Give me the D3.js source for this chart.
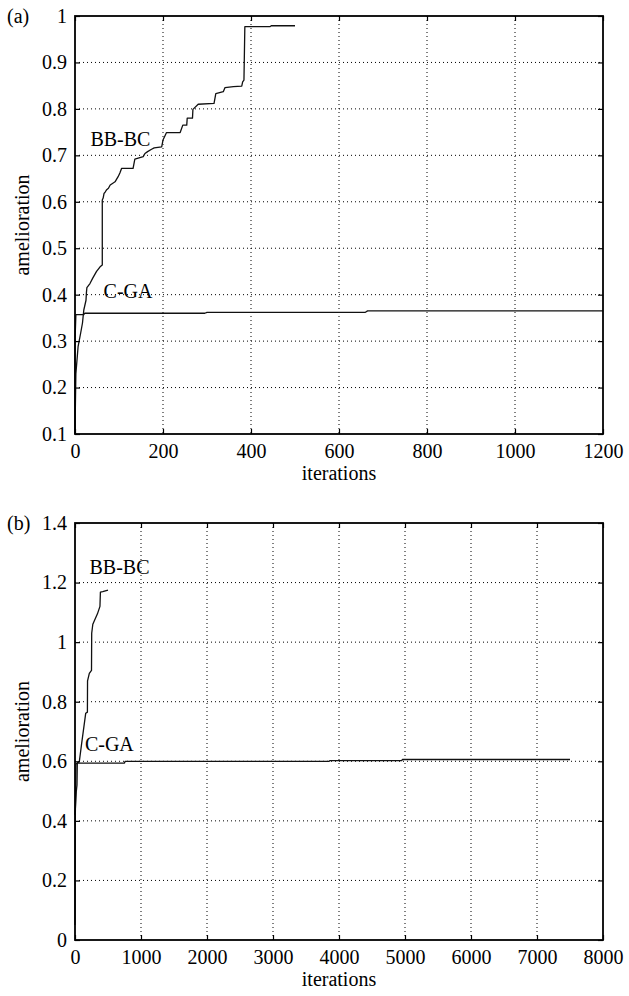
<!DOCTYPE html>
<html lang="en">
<head>
  <meta charset="UTF-8" />
  <title>BB-BC vs C-GA</title>
  <style>
    html, body {
      margin: 0;
      padding: 0;
      background: #fff;
    }
    svg {
      display: block;
    }
    svg text {
      font-family: "Liberation Serif", "Times New Roman", Times, "DejaVu Serif", serif;
    }
  </style>
</head>
<body>
<script src="https://cdn.jsdelivr.net/npm/d3@7"></script>
<script>
  // panel (a)
  const aTicksX = [0, 200, 400, 600, 800, 1000, 1200];
  const aTicksY = [0.1, 0.2, 0.3, 0.4, 0.5, 0.6, 0.7, 0.8, 0.9, 1];
  const aTickLabelsY = ["0.1", "0.2", "0.3", "0.4", "0.5", "0.6", "0.7", "0.8", "0.9", "1"];
  const aBBBCx = [0, 1, 2, 7, 13, 17, 20, 25, 26, 27, 34, 40, 49, 57, 62, 62, 64, 66, 68, 72, 76, 80, 86, 91, 98, 102, 106, 132, 136, 155, 159, 165, 174, 180, 197, 200, 208, 239, 245, 254, 255, 267, 268, 280, 316, 320, 337, 341, 360, 379, 381, 384, 386, 443, 446, 500];
  const aBBBCy = [0.10, 0.17, 0.23, 0.288, 0.318, 0.339, 0.367, 0.388, 0.405, 0.415, 0.424, 0.435, 0.450, 0.460, 0.464, 0.604, 0.608, 0.618, 0.620, 0.626, 0.629, 0.636, 0.640, 0.643, 0.654, 0.662, 0.672, 0.672, 0.692, 0.697, 0.704, 0.708, 0.713, 0.716, 0.718, 0.733, 0.749, 0.749, 0.765, 0.765, 0.780, 0.780, 0.799, 0.810, 0.812, 0.833, 0.837, 0.846, 0.848, 0.849, 0.858, 0.862, 0.977, 0.977, 0.979, 0.979];
  const aCGAx = [0, 0, 2, 20, 22, 295, 300, 660, 665, 1200];
  const aCGAy = [0.10, 0.30, 0.357, 0.357, 0.360, 0.360, 0.362, 0.362, 0.365, 0.365];

  // panel (b)
  const bTicksX = [0, 1000, 2000, 3000, 4000, 5000, 6000, 7000, 8000];
  const bTicksY = [0, 0.2, 0.4, 0.6, 0.8, 1, 1.2, 1.4];
  const bTickLabelsY = ["0", "0.2", "0.4", "0.6", "0.8", "1", "1.2", "1.4"];
  const bBBBCx = [0, 20, 25, 30, 35, 66, 101, 162, 188, 190, 217, 250, 253, 270, 340, 378, 385, 420, 500];
  const bBBBCy = [0.42, 0.50, 0.51, 0.52, 0.594, 0.600, 0.660, 0.761, 0.765, 0.870, 0.895, 0.905, 1.03, 1.06, 1.095, 1.12, 1.168, 1.170, 1.175];
  const bCGAx = [0, 5, 15, 30, 750, 760, 3850, 3860, 4950, 4960, 7500];
  const bCGAy = [0.05, 0.42, 0.59, 0.594, 0.594, 0.600, 0.600, 0.602, 0.602, 0.606, 0.606];

  const W = 629, H = 996;
  const left = 75, right = 603;
  const serif = "'Liberation Serif', 'Times New Roman', Times, 'DejaVu Serif', serif";

  const panels = [
    {tag: "(a)", top: 16, bottom: 434, xDomain: [0, 1200], yDomain: [0.1, 1],
     ticksX: aTicksX, ticksY: aTicksY, labelsY: aTickLabelsY,
     series: [{x: aBBBCx, y: aBBBCy}, {x: aCGAx, y: aCGAy}],
     notes: [{text: "BB-BC", x: 35, y: 0.72}, {text: "C-GA", x: 65, y: 0.393}]},
    {tag: "(b)", top: 523, bottom: 940, xDomain: [0, 8000], yDomain: [0, 1.4],
     ticksX: bTicksX, ticksY: bTicksY, labelsY: bTickLabelsY,
     series: [{x: bBBBCx, y: bBBBCy}, {x: bCGAx, y: bCGAy}],
     notes: [{text: "BB-BC", x: 220, y: 1.23}, {text: "C-GA", x: 150, y: 0.635}]}
  ];

  const svg = d3.select("body").append("svg")
    .attr("width", W)
    .attr("height", H)
    .attr("font-family", serif);

  panels.forEach(p => {
    const x = d3.scaleLinear().domain(p.xDomain).range([left, right]);
    const y = d3.scaleLinear().domain(p.yDomain).range([p.bottom, p.top]);
    const g = svg.append("g");

    // dotted grid
    g.append("g").selectAll("line")
      .data(p.ticksX.slice(1, -1))
      .join("line")
      .attr("x1", d => x(d)).attr("x2", d => x(d))
      .attr("y1", p.top).attr("y2", p.bottom)
      .attr("stroke", "#000").attr("stroke-width", 1)
      .attr("stroke-dasharray", "1,3");
    g.append("g").selectAll("line")
      .data(p.ticksY.slice(1, -1))
      .join("line")
      .attr("y1", d => y(d)).attr("y2", d => y(d))
      .attr("x1", left).attr("x2", right)
      .attr("stroke", "#000").attr("stroke-width", 1)
      .attr("stroke-dasharray", "1,3");

    // curves
    const line = d3.line().x(d => x(d[0])).y(d => y(d[1]));
    p.series.forEach(s => {
      g.append("path")
        .datum(s.x.map((v, i) => [v, s.y[i]]))
        .attr("fill", "none")
        .attr("stroke", "#111")
        .attr("stroke-width", 1.3)
        .attr("stroke-linejoin", "round")
        .attr("d", line);
    });

    // axes, inward ticks on all four sides
    const fontStyle = sel => sel
      .attr("font-family", serif)
      .attr("font-size", 20)
      .selectAll("text")
      .attr("fill", "#000");

    g.append("g")
      .attr("transform", `translate(0,${p.bottom})`)
      .call(d3.axisBottom(x).tickValues(p.ticksX).tickSize(-5).tickPadding(10).tickFormat(d3.format("d")))
      .call(a => a.select(".domain").remove())
      .call(fontStyle);
    g.append("g")
      .attr("transform", `translate(0,${p.top})`)
      .call(d3.axisTop(x).tickValues(p.ticksX).tickSize(-5).tickFormat(""))
      .call(a => a.select(".domain").remove());
    g.append("g")
      .attr("transform", `translate(${left},0)`)
      .call(d3.axisLeft(y).tickValues(p.ticksY).tickSize(-5).tickPadding(8)
        .tickFormat((d, i) => p.labelsY[i]))
      .call(a => a.select(".domain").remove())
      .call(fontStyle);
    g.append("g")
      .attr("transform", `translate(${right},0)`)
      .call(d3.axisRight(y).tickValues(p.ticksY).tickSize(-5).tickFormat(""))
      .call(a => a.select(".domain").remove());

    g.selectAll(".tick line").attr("stroke-width", 1.2);

    g.append("rect")
      .attr("x", left).attr("y", p.top)
      .attr("width", right - left).attr("height", p.bottom - p.top)
      .attr("fill", "none").attr("stroke", "#000").attr("stroke-width", 1.8);

    // labels
    g.append("text")
      .attr("x", (left + right) / 2).attr("y", p.bottom + 46)
      .attr("text-anchor", "middle").attr("font-size", 20)
      .text("iterations");
    g.append("text")
      .attr("transform", `translate(29,${(p.top + p.bottom) / 2}) rotate(-90)`)
      .attr("text-anchor", "middle").attr("font-size", 20)
      .text("amelioration");
    g.append("text")
      .attr("x", 7).attr("y", p.top + 7)
      .attr("font-size", 20)
      .text(p.tag);

    p.notes.forEach(n => {
      g.append("text")
        .attr("x", x(n.x)).attr("y", y(n.y))
        .attr("font-size", 20)
        .text(n.text);
    });
  });
</script>
</body>
</html>
